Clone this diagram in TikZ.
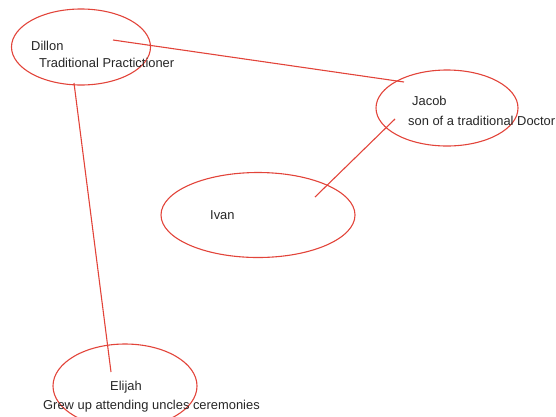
\documentclass[tikz,border=0pt]{standalone}
\usepackage{fontspec}
\setmainfont{Liberation Sans}
\usetikzlibrary{shapes.geometric}
\definecolor{ringred}{RGB}{226,68,58}
\begin{document}
\begin{tikzpicture}[x=1pt, y=1pt, main/.style = {draw=ringred, line width=1.1pt, ellipse, inner sep=0pt}, label/.style = {font=\fontsize{12.9}{15}\selectfont, text=black!85, inner sep=0pt, anchor=west}, link/.style = {draw=ringred, line width=1.1pt}]
    \useasboundingbox (0,0) rectangle (556,-416);
    \node[main, minimum width=139pt, minimum height=76pt] (dillon) at (81,-47) {};
    \node[main, minimum width=142pt, minimum height=76pt] (jacob) at (447,-108) {};
    \node[main, minimum width=194pt, minimum height=85pt] (ivan) at (258,-215) {};
    \node[main, minimum width=144pt, minimum height=84pt] (elijah) at (125,-386) {};
    \node[label] (dillonname) at (31,-46) {Dillon};
    \node[label] (dillonrole) at (39,-63) {Traditional Practictioner};
    \node[label] (jacobname) at (412,-101) {Jacob};
    \node[label] (jacobrole) at (408,-121) {son of a traditional Doctor};
    \node[label] (ivanname) at (210,-215) {Ivan};
    \node[label] (elijahname) at (110,-387) {Elijah};
    \node[label] (elijahrole) at (43,-406) {Grew up attending uncles ceremonies};
    \coordinate (d1) at ([shift={(32,7)}]dillon.center);
    \coordinate (d2) at ([shift={(-7,-36)}]dillon.center);
    \coordinate (j1) at ([shift={(-43,26)}]jacob.center);
    \coordinate (j2) at ([shift={(-52,-11)}]jacob.center);
    \coordinate (i1) at ([shift={(57,18)}]ivan.center);
    \coordinate (e1) at ([shift={(-14,14)}]elijah.center);
    \draw[link] (d1) -- (j1);
    \draw[link] (j2) -- (i1);
    \draw[link] (d2) -- (e1);
\end{tikzpicture}
\end{document}
